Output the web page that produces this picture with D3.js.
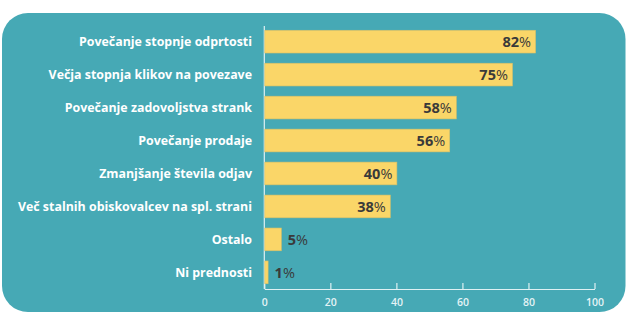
<!DOCTYPE html>
<html><head><meta charset="utf-8">
<script src="https://cdn.jsdelivr.net/npm/d3@7"></script>
<style>html,body{margin:0;padding:0;background:#fff;}svg{display:block;}</style>
</head><body>
<script>
const categories = ["Povečanje stopnje odprtosti","Večja stopnja klikov na povezave","Povečanje zadovoljstva strank","Povečanje prodaje","Zmanjšanje števila odjav","Več stalnih obiskovalcev na spl. strani","Ostalo","Ni prednosti"];
const values = [82,75,58,56,40,38,5,1];
const tickValues = [0,20,40,60,80,100];

const W=628,H=329;
const svg=d3.select("body").append("svg").attr("width",W).attr("height",H);
svg.append("rect").attr("x",2).attr("y",13).attr("width",623.5).attr("height",299).attr("rx",26).attr("fill","#46a9b5");

const x=d3.scaleLinear().domain([0,100]).range([264.3,594.5]);
const y=d3.scaleBand().domain(categories).range([25,289]).paddingInner(0.31).paddingOuter(0.16);

const font="'Open Sans', sans-serif";
// axis
const ax=svg.append("g").attr("transform","translate(0,289)").call(d3.axisBottom(x).tickValues(tickValues).tickSizeInner(-6).tickSizeOuter(0).tickPadding(10));
ax.select(".domain").attr("stroke","#dff1f3").attr("stroke-width",1.2);
ax.selectAll(".tick line").attr("stroke","#dff1f3").attr("stroke-width",1.2);
ax.selectAll(".tick text").attr("fill","#e4f3f5").attr("font-family",font).attr("font-size",10.5).attr("font-weight",600);
// vertical axis line
svg.append("line").attr("x1",x(0)).attr("x2",x(0)).attr("y1",26).attr("y2",289).attr("stroke","#dff1f3").attr("stroke-width",1.2);

svg.selectAll("rect.bar").data(values).join("rect").attr("class","bar")
 .attr("x",x(0)+0.5).attr("y",(d,i)=>y(categories[i])).attr("height",y.bandwidth())
 .attr("width",d=>x(d)-x(0)).attr("fill","#fad668").attr("stroke","#d8c068").attr("stroke-width",0.6);

svg.selectAll("text.cat").data(categories).join("text").attr("class","cat")
 .attr("x",252).attr("y",d=>y(d)+y.bandwidth()/2).attr("dy","0.35em").attr("text-anchor","end")
 .attr("fill","#ffffff").attr("font-family",font).attr("font-weight",700).attr("font-size",12.4).text(d=>d);

const vl=svg.selectAll("text.val").data(values).join("text").attr("class","val")
 .attr("x",d=>d>20?x(d)-4:x(d)+7).attr("y",(d,i)=>y(categories[i])+y.bandwidth()/2).attr("dy","0.38em")
 .attr("text-anchor",d=>d>20?"end":"start").attr("fill","#3a3a3a").attr("font-family",font).attr("font-size",14.5);
vl.append("tspan").attr("font-weight",700).text(d=>d);
vl.append("tspan").attr("font-weight",400).text("%");
</script>
</body></html>
